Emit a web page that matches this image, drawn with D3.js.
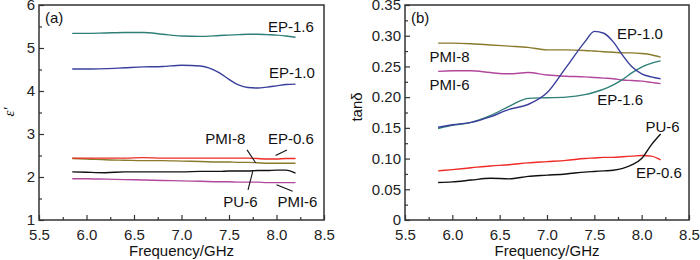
<!DOCTYPE html>
<html>
<head>
<meta charset="utf-8">
<script src="https://cdn.jsdelivr.net/npm/d3@7"></script>
<style>
  body { margin: 0; background: #fff; }
  svg { display: block; font-family: "Liberation Sans", Arial, sans-serif; }
</style>
</head>
<body>
<div id="chart"></div>
<script>
// frequency grid shared by every curve (GHz)
const freq = [5.85, 6.0, 6.2, 6.4, 6.6, 6.8, 7.0, 7.2, 7.4, 7.5, 7.6, 7.7, 7.8, 7.9, 8.0, 8.1, 8.2];

// (a) real permittivity
const epsEP16 = [5.34, 5.34, 5.35, 5.36, 5.36, 5.32, 5.28, 5.27, 5.29, 5.30, 5.31, 5.32, 5.32, 5.31, 5.30, 5.28, 5.25];
const epsEP10 = [4.51, 4.51, 4.52, 4.54, 4.56, 4.57, 4.60, 4.58, 4.42, 4.27, 4.14, 4.08, 4.07, 4.09, 4.12, 4.15, 4.16];
const epsEP06 = [2.44, 2.44, 2.44, 2.44, 2.45, 2.44, 2.44, 2.44, 2.44, 2.44, 2.44, 2.44, 2.43, 2.42, 2.42, 2.43, 2.43];
const epsPMI8 = [2.43, 2.42, 2.40, 2.39, 2.38, 2.38, 2.37, 2.36, 2.35, 2.35, 2.34, 2.34, 2.33, 2.32, 2.32, 2.32, 2.32];
const epsPU6  = [2.12, 2.11, 2.10, 2.12, 2.12, 2.12, 2.12, 2.13, 2.13, 2.14, 2.14, 2.14, 2.15, 2.15, 2.16, 2.16, 2.09];
const epsPMI6 = [1.96, 1.96, 1.95, 1.94, 1.93, 1.92, 1.91, 1.90, 1.89, 1.89, 1.88, 1.88, 1.88, 1.87, 1.87, 1.87, 1.87];

// (b) loss tangent
const tanPMI8 = [0.288, 0.288, 0.287, 0.285, 0.283, 0.281, 0.277, 0.277, 0.276, 0.275, 0.274, 0.273, 0.272, 0.272, 0.271, 0.269, 0.265];
const tanPMI6 = [0.242, 0.243, 0.243, 0.240, 0.238, 0.240, 0.236, 0.234, 0.233, 0.232, 0.231, 0.230, 0.228, 0.227, 0.226, 0.224, 0.222];
const tanEP10 = [0.151, 0.155, 0.159, 0.168, 0.180, 0.188, 0.207, 0.248, 0.290, 0.307, 0.304, 0.290, 0.268, 0.249, 0.238, 0.233, 0.230];
const tanEP16 = [0.149, 0.154, 0.159, 0.170, 0.185, 0.198, 0.199, 0.200, 0.204, 0.208, 0.213, 0.220, 0.229, 0.240, 0.249, 0.255, 0.259];
const tanEP06 = [0.080, 0.082, 0.085, 0.088, 0.090, 0.093, 0.095, 0.097, 0.100, 0.101, 0.102, 0.102, 0.103, 0.104, 0.105, 0.104, 0.098];
const tanPU6  = [0.061, 0.062, 0.065, 0.068, 0.067, 0.071, 0.073, 0.075, 0.078, 0.079, 0.080, 0.081, 0.084, 0.090, 0.100, 0.122, 0.140];

const xTicks = [5.5, 6.0, 6.5, 7.0, 7.5, 8.0, 8.5];
const epsTicks = [1, 2, 3, 4, 5, 6];
const tanTicks = [0, 0.05, 0.10, 0.15, 0.20, 0.25, 0.30, 0.35];

const colors = {
  "EP-1.6": "#2f7f78",
  "EP-1.0": "#3a3f9c",
  "EP-0.6": "#ee2b26",
  "PMI-8": "#8a7a2c",
  "PMI-6": "#b2489c",
  "PU-6": "#111111"
};

const W = 700, H = 260;
const svg = d3.select("#chart").append("svg")
  .attr("width", W)
  .attr("height", H);

function panel(opts) {
  const x = d3.scaleLinear().domain([5.5, 8.5]).range([opts.left, opts.right]);
  const y = d3.scaleLinear().domain(opts.yDomain).range([220, 5]);
  const g = svg.append("g");

  // minor ticks (inward)
  const xMinor = d3.range(5.75, 8.5, 0.5);
  g.append("g")
    .attr("transform", `translate(0,220)`)
    .call(d3.axisTop(x).tickValues(xMinor).tickSize(3).tickFormat(""))
    .call(a => a.select(".domain").remove());
  g.append("g")
    .attr("transform", `translate(${opts.left},0)`)
    .call(d3.axisRight(y).tickValues(opts.yMinor).tickSize(3).tickFormat(""))
    .call(a => a.select(".domain").remove());

  // major ticks
  const xa = g.append("g")
    .attr("transform", `translate(0,220)`)
    .call(d3.axisBottom(x).tickValues(xTicks).tickSize(-5).tickPadding(9).tickFormat(d3.format(".1f")));
  const ya = g.append("g")
    .attr("transform", `translate(${opts.left},0)`)
    .call(d3.axisLeft(y).tickValues(opts.yTicks).tickSize(-5).tickPadding(4).tickFormat(opts.fmt));

  [xa, ya].forEach(a => {
    a.select(".domain").remove();
    a.selectAll("text").style("font-size", "15px").attr("fill", "#222").style("font-family", "'Liberation Sans', Arial, sans-serif");
  });
  g.selectAll(".tick line").attr("stroke", "#333").attr("stroke-width", 1.2);

  // frame
  g.append("rect")
    .attr("x", opts.left)
    .attr("y", 5)
    .attr("width", opts.right - opts.left)
    .attr("height", 215)
    .attr("fill", "none")
    .attr("stroke", "#333")
    .attr("stroke-width", 1.5);

  const line = d3.line()
    .x((d, i) => x(freq[i]))
    .y(d => y(d))
    .curve(d3.curveMonotoneX);

  opts.series.forEach(s => {
    g.append("path")
      .datum(s.values)
      .attr("d", line)
      .attr("fill", "none")
      .attr("stroke", colors[s.name])
      .attr("stroke-width", 1.4);
  });

  opts.labels.forEach(l => {
    g.append("text")
      .attr("x", x(l.f))
      .attr("y", y(l.v))
      .attr("font-size", 15)
      .attr("fill", "#111")
      .text(l.text);
  });

  (opts.leaders || []).forEach(l => {
    g.append("line")
      .attr("x1", x(l[0])).attr("y1", y(l[1]))
      .attr("x2", x(l[2])).attr("y2", y(l[3]))
      .attr("stroke", "#111")
      .attr("stroke-width", 1.1);
  });

  g.append("text")
    .attr("x", opts.left + 6)
    .attr("y", 23)
    .attr("font-size", 15)
    .attr("fill", "#111")
    .text(opts.tag);

  g.append("text")
    .attr("x", (opts.left + opts.right) / 2)
    .attr("y", 256)
    .attr("text-anchor", "middle")
    .attr("font-size", 15)
    .attr("fill", "#111")
    .text("Frequency/GHz");

  return { x, y, g };
}

panel({
  left: 39, right: 324,
  yDomain: [1, 6],
  yTicks: epsTicks,
  yMinor: d3.range(1.5, 6, 1),
  fmt: d3.format("d"),
  tag: "(a)",
  series: [
    { name: "EP-1.6", values: epsEP16 },
    { name: "EP-1.0", values: epsEP10 },
    { name: "PMI-8", values: epsPMI8 },
    { name: "EP-0.6", values: epsEP06 },
    { name: "PMI-6", values: epsPMI6 },
    { name: "PU-6", values: epsPU6 }
  ],
  labels: [
    { text: "EP-1.6", f: 7.91, v: 5.37 },
    { text: "EP-1.0", f: 7.92, v: 4.30 },
    { text: "PMI-8", f: 7.25, v: 2.77 },
    { text: "EP-0.6", f: 7.91, v: 2.77 },
    { text: "PU-6", f: 7.44, v: 1.30 },
    { text: "PMI-6", f: 8.01, v: 1.30 }
  ],
  leaders: [
    [7.69, 2.63, 7.78, 2.33],
    [8.11, 2.63, 7.99, 2.50],
    [7.70, 1.70, 7.75, 2.13],
    [8.00, 1.82, 8.17, 1.67]
  ]
});

panel({
  left: 405, right: 689,
  yDomain: [0, 0.35],
  yTicks: tanTicks,
  yMinor: d3.range(0.025, 0.35, 0.05),
  fmt: d => d === 0 ? "0" : d3.format(".2f")(d),
  tag: "(b)",
  series: [
    { name: "PMI-8", values: tanPMI8 },
    { name: "PMI-6", values: tanPMI6 },
    { name: "EP-1.6", values: tanEP16 },
    { name: "EP-1.0", values: tanEP10 },
    { name: "EP-0.6", values: tanEP06 },
    { name: "PU-6", values: tanPU6 }
  ],
  labels: [
    { text: "EP-1.0", f: 7.74, v: 0.295 },
    { text: "PMI-8", f: 5.76, v: 0.257 },
    { text: "PMI-6", f: 5.76, v: 0.212 },
    { text: "EP-1.6", f: 7.53, v: 0.187 },
    { text: "PU-6", f: 8.04, v: 0.143 },
    { text: "EP-0.6", f: 7.94, v: 0.068 }
  ]
});

// y axis titles
svg.append("text")
  .attr("transform", "translate(14,112) rotate(-90)")
  .attr("text-anchor", "middle")
  .attr("font-size", 15)
  .attr("font-style", "italic")
  .attr("font-family", "'Liberation Serif', 'DejaVu Serif', serif")
  .attr("fill", "#111")
  .text("ε′");

svg.append("text")
  .attr("transform", "translate(362,107) rotate(-90)")
  .attr("text-anchor", "middle")
  .attr("font-size", 15)
  .attr("fill", "#111")
  .text("tanδ");
</script>
</body>
</html>
